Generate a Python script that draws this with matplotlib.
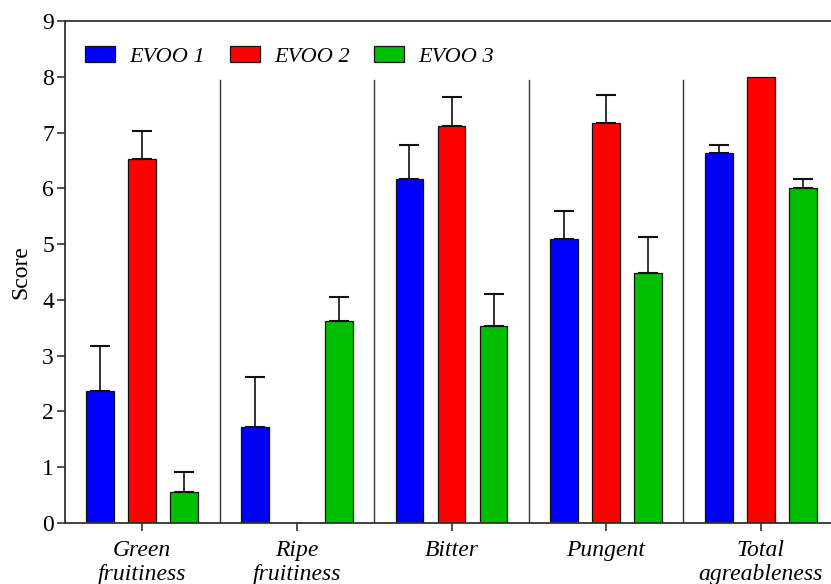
import matplotlib
matplotlib.use("Agg")
import matplotlib.pyplot as plt
import numpy as np

categories = ["Green\nfruitiness", "Ripe\nfruitiness", "Bitter", "Pungent", "Total\nagreableness"]
series = ["EVOO 1", "EVOO 2", "EVOO 3"]
colours = ["#0000ff", "#ff0000", "#00bf00"]

evoo1 = [2.37, 1.72, 6.16, 5.10, 6.63]
evoo2 = [6.52, 0.0, 7.12, 7.17, 8.00]
evoo3 = [0.55, 3.63, 3.53, 4.48, 6.00]
err1 = [0.81, 0.90, 0.62, 0.50, 0.15]
err2 = [0.51, 0.0, 0.52, 0.51, 0.0]
err3 = [0.37, 0.43, 0.57, 0.64, 0.16]

plt.rcParams["font.family"] = ["Liberation Serif", "DejaVu Serif"]

fig = plt.figure(figsize=(8.31, 5.84), dpi=100)
ax = fig.add_axes([65 / 831, 61 / 584, 773 / 831, 502 / 584])

x = np.arange(len(categories))
width = 0.18
offset = 0.272
for k, (vals, errs) in enumerate(zip([evoo1, evoo2, evoo3], [err1, err2, err3])):
    pos = x + (k - 1) * offset
    ax.bar(pos, vals, width, color=colours[k], edgecolor="#111111", linewidth=0.9,
           label=series[k], zorder=2)
    # upper-only error bars
    show = [e > 0 for e in errs]
    ax.errorbar(pos[show], np.array(vals)[show],
                yerr=[np.zeros(sum(show)), np.array(errs)[show]],
                fmt="none", ecolor="#111111", elinewidth=1.2, capsize=7, capthick=1.5,
                zorder=1)

# group dividers
for d in x[:-1] + 0.5:
    ax.plot([d, d], [0, 7.95], color="#333333", linewidth=1.0, zorder=0)

ax.set_xlim(-0.5, len(categories) - 0.5)
ax.set_ylim(0, 9)
ax.set_yticks(range(10))
ax.set_xticks(x)
ax.set_xticklabels(categories, fontstyle="italic", fontsize=17, linespacing=1.2)
ax.tick_params(axis="y", labelsize=17, length=6, width=1.2, color="#333333", pad=2)
ax.tick_params(axis="x", length=6, width=1.2, color="#333333", pad=6)
ax.set_ylabel("Score", fontsize=17, labelpad=8)

for side in ["left", "top", "bottom"]:
    ax.spines[side].set_color("#333333")
    ax.spines[side].set_linewidth(1.3)
ax.spines["right"].set_visible(False)

leg = ax.legend(loc="upper left", bbox_to_anchor=(0.0, 0.99), ncol=3, frameon=False,
                prop={"style": "italic", "size": 16}, handlelength=1.35, handleheight=0.7,
                handletextpad=0.65, columnspacing=1.1)

fig.savefig("out.png", dpi=100)
